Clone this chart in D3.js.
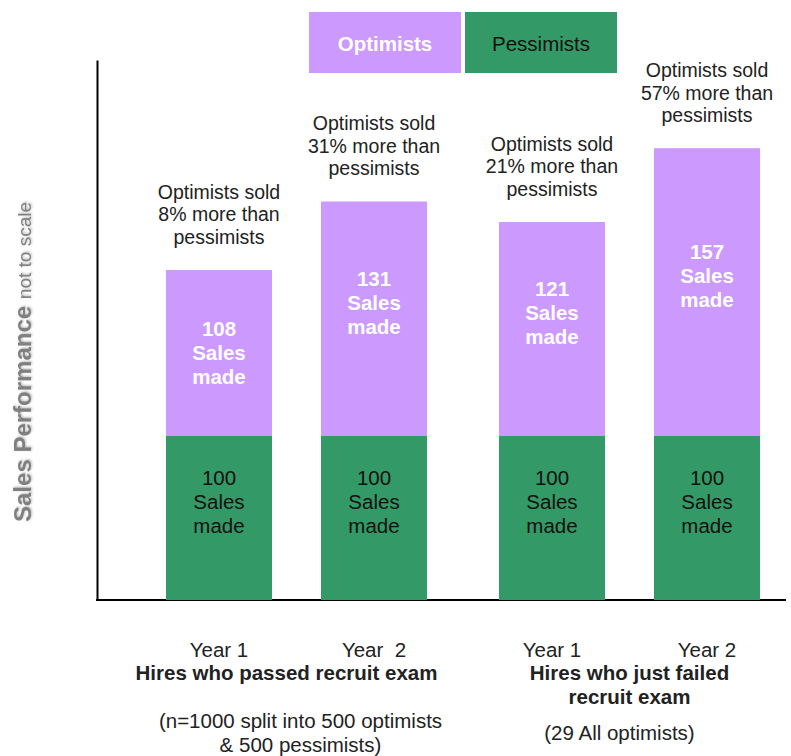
<!DOCTYPE html>
<html>
<head>
<meta charset="utf-8">
<script src="https://cdn.jsdelivr.net/npm/d3@7"></script>
<style>
    body { margin: 0; background: #fff; }
    text { font-family: "Liberation Sans", Arial, sans-serif; }
</style>
</head>
<body>
<script>
const groups = ['passed', 'failed'];
const years = ['Year 1', 'Year 2'];
const yearLabels = [['Year 1', 'Year  2'], ['Year 1', 'Year 2']];
const pessimists = [100, 100, 100, 100];
const optimists = [108, 131, 121, 157];
const uplift = ['8%', '31%', '21%', '57%'];
const groupTitles = [['Hires who passed recruit exam'], ['Hires who just failed', 'recruit exam']];
const groupNotes = [['(n=1000 split into 500 optimists', '& 500 pessimists)'], ['(29 All optimists)']];
const legendItems = ['Optimists', 'Pessimists'];

(function () {

    const width = 791, height = 756;
    const purple = '#cc99ff', green = '#339966';
    const fs = 20.5;

    const svg = d3.select('body')
        .append('svg')
        .attr('width', width)
        .attr('height', height);

    svg.append('defs')
        .append('filter')
        .attr('id', 'shadow')
        .append('feDropShadow')
        .attr('dx', 1).attr('dy', 1)
        .attr('stdDeviation', 1)
        .attr('flood-color', '#bbb');

    // group and year scales
    const x0 = d3.scaleBand()
        .domain(groups)
        .range([130, 796]);

    const x1 = d3.scaleBand()
        .domain(years)
        .range([0, x0.bandwidth()])
        .paddingInner(0.316)
        .paddingOuter(0.232);

    // "not to scale": piecewise scale
    const y = d3.scaleLinear()
        .domain([0, 100, 108, 121, 200])
        .range([600, 436, 270, 222, 60]);

    const bars = optimists.map((v, i) => ({
        group: groups[Math.floor(i / 2)],
        year: years[i % 2],
        yearLabel: yearLabels[Math.floor(i / 2)][i % 2],
        opt: v,
        pes: pessimists[i],
        uplift: uplift[i]
    }));

    const cx = d => x0(d.group) + x1(d.year) + x1.bandwidth() / 2;

    // axes
    svg.append('g')
        .attr('transform', 'translate(97, 0)')
        .call(d3.axisLeft(y).tickValues([]).tickSizeOuter(0))
        .select('.domain')
        .attr('stroke', '#000')
        .attr('stroke-width', 2);

    svg.append('line')
        .attr('x1', 96).attr('x2', 786)
        .attr('y1', y(0)).attr('y2', y(0))
        .attr('stroke', '#000')
        .attr('stroke-width', 2);

    const bar = svg.append('g')
        .selectAll('g')
        .data(bars)
        .join('g');

    bar.append('rect')
        .attr('x', d => x0(d.group) + x1(d.year))
        .attr('y', d => y(d.opt))
        .attr('width', x1.bandwidth())
        .attr('height', d => y(d.pes) - y(d.opt))
        .attr('fill', purple);

    bar.append('rect')
        .attr('x', d => x0(d.group) + x1(d.year))
        .attr('y', d => y(d.pes))
        .attr('width', x1.bandwidth())
        .attr('height', d => y(0) - y(d.pes))
        .attr('fill', green);

    // labels in the optimist segment
    bar.append('text')
        .attr('text-anchor', 'middle')
        .attr('fill', '#fff')
        .attr('font-weight', 'bold')
        .attr('font-size', fs)
        .selectAll('tspan')
        .data(d => {
            const h = y(d.pes) - y(d.opt);
            const mid = y(d.opt) + h / 2 - Math.min(16, (h - 166) * 0.4);
            return [d.opt, 'Sales', 'made'].map((t, k) => ({t, x: cx(d), y: mid + (k - 1) * 24}));
        })
        .join('tspan')
        .attr('x', d => d.x)
        .attr('y', d => d.y)
        .attr('dy', '0.35em')
        .text(d => d.t);

    // labels in the pessimist segment
    bar.append('text')
        .attr('text-anchor', 'middle')
        .attr('fill', '#111')
        .attr('font-size', fs)
        .selectAll('tspan')
        .data(d => [d.pes, 'Sales', 'made'].map((t, k) => ({t, x: cx(d), y: y(d.pes) + 42 + k * 24})))
        .join('tspan')
        .attr('x', d => d.x)
        .attr('y', d => d.y)
        .attr('dy', '0.35em')
        .text(d => d.t);

    // annotation above each bar
    bar.append('text')
        .attr('text-anchor', 'middle')
        .attr('fill', '#222')
        .attr('font-size', 19.5)
        .selectAll('tspan')
        .data(d => ['Optimists sold', d.uplift + ' more than', 'pessimists']
            .map((t, k) => ({t, x: cx(d), y: y(d.opt) - 78 + k * 22.5})))
        .join('tspan')
        .attr('x', d => d.x)
        .attr('y', d => d.y)
        .attr('dy', '0.35em')
        .text(d => d.t);

    // year labels
    bar.append('text')
        .attr('x', cx)
        .attr('y', 650)
        .attr('dy', '0.35em')
        .attr('text-anchor', 'middle')
        .attr('fill', '#222')
        .attr('font-size', fs)
        .style('white-space', 'pre')
        .text(d => d.yearLabel);

    // group titles and notes
    groups.forEach((g, i) => {
        const gx = x0(g) + x0.bandwidth() / 2 - (i === 0 ? 10 : 0);
        svg.append('text')
            .attr('text-anchor', 'middle')
            .attr('font-weight', 'bold')
            .attr('font-size', fs)
            .attr('fill', '#222')
            .selectAll('tspan')
            .data(groupTitles[i])
            .join('tspan')
            .attr('x', gx)
            .attr('y', (d, k) => 673 + k * 24)
            .attr('dy', '0.35em')
            .text(d => d);

        const n = groupNotes[i].length;
        svg.append('text')
            .attr('text-anchor', 'middle')
            .attr('font-size', fs)
            .attr('fill', '#222')
            .selectAll('tspan')
            .data(groupNotes[i])
            .join('tspan')
            .attr('x', gx + (i === 0 ? 14 : -10))
            .attr('y', (d, k) => 733 + (k - (n - 1) / 2) * 24)
            .attr('dy', '0.35em')
            .text(d => d);
    });

    // legend
    const legend = d3.scaleBand()
        .domain(legendItems)
        .range([309, 617])
        .paddingInner(0.0256);

    const lg = svg.append('g')
        .selectAll('g')
        .data(legendItems)
        .join('g');

    lg.append('rect')
        .attr('x', d => legend(d))
        .attr('y', 12)
        .attr('width', legend.bandwidth())
        .attr('height', 61)
        .attr('fill', (d, i) => i === 0 ? purple : green);

    lg.append('text')
        .attr('x', d => legend(d) + legend.bandwidth() / 2)
        .attr('y', 44)
        .attr('dy', '0.35em')
        .attr('text-anchor', 'middle')
        .attr('font-size', fs)
        .attr('font-weight', (d, i) => i === 0 ? 'bold' : 'normal')
        .attr('fill', (d, i) => i === 0 ? '#fff' : '#111')
        .text(d => d);

    // y axis title
    const yt = svg.append('text')
        .attr('transform', 'translate(31, 362) rotate(-90)')
        .attr('text-anchor', 'middle')
        .attr('fill', '#808080')
        .attr('filter', 'url(#shadow)');

    yt.append('tspan')
        .attr('font-weight', 'bold')
        .attr('font-size', 24)
        .text('Sales Performance ');

    yt.append('tspan')
        .attr('font-size', 19)
        .text('not to scale');

})();
</script>
</body>
</html>
